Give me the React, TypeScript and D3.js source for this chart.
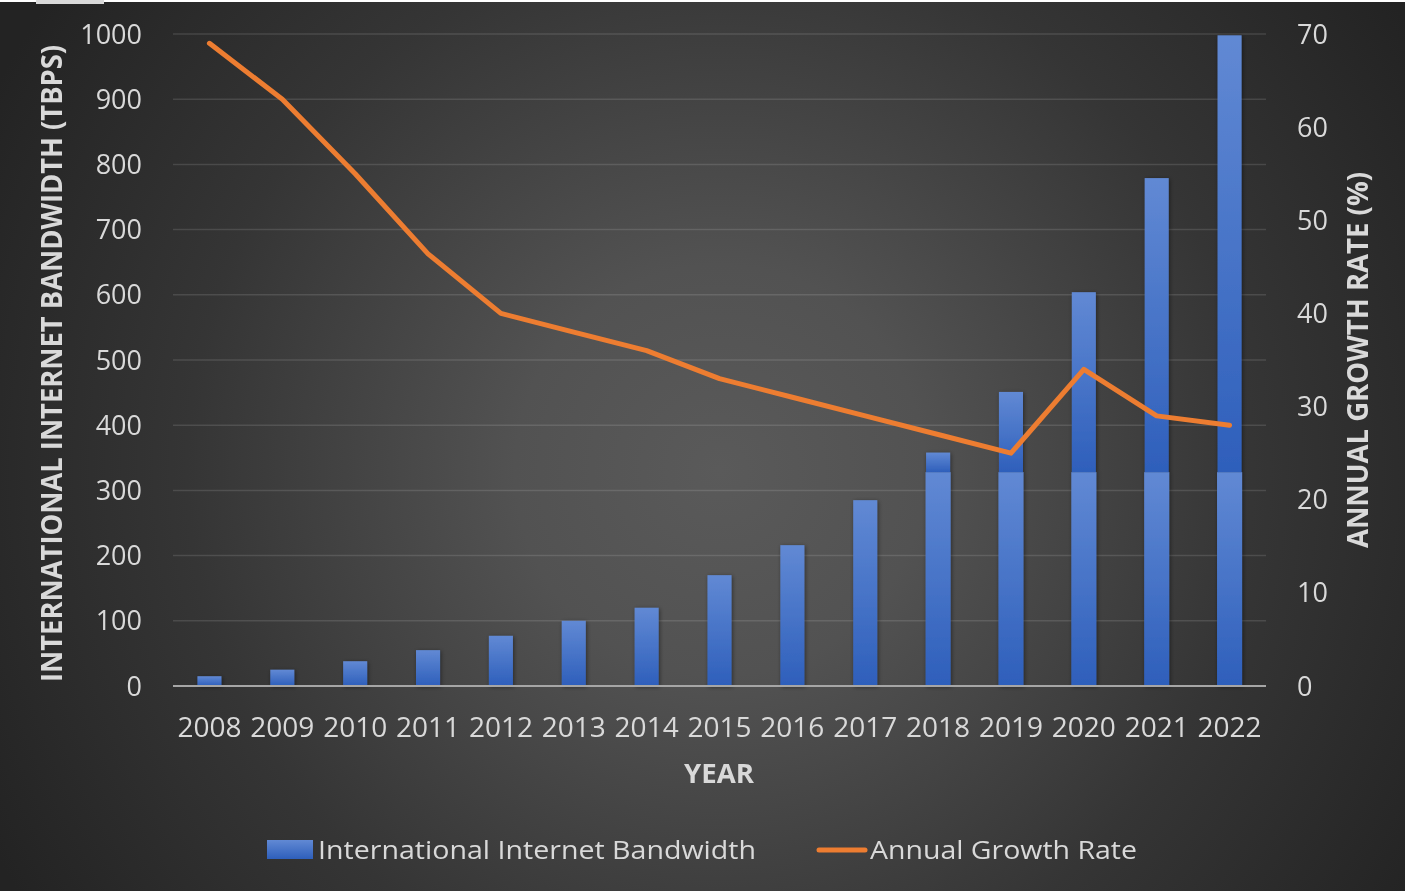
import React from "react";
import * as d3 from "d3";

const years = ["2008","2009","2010","2011","2012","2013","2014","2015","2016","2017","2018","2019","2020","2021","2022"];
const bandwidth = [15, 25, 38, 55, 77, 100, 120, 170, 216, 285, 358, 451, 604, 779, 998];
const growthRate = [69, 63, 55, 46.4, 40, 38, 36, 33, 31, 29, 27, 25, 34, 29, 28];
const leftTicks = [0, 100, 200, 300, 400, 500, 600, 700, 800, 900, 1000];
const rightTicks = [0, 10, 20, 30, 40, 50, 60, 70];
const gradientBreak = 328;

const W = 1405, H = 891;
const FONT = "'Open Sans', 'Liberation Sans', sans-serif";

export default function App() {
  const x = d3.scaleBand<string>().domain(years).range([173, 1266]).padding(0);
  const yL = d3.scaleLinear().domain([0, 1000]).range([686, 34]);
  const yR = d3.scaleLinear().domain([0, 70]).range([686, 34]);
  const bw = x.bandwidth() * 0.33;
  const cx = (d: string) => (x(d) as number) + x.bandwidth() / 2;

  const line = d3.line<number>()
    .x((_, i) => cx(years[i]))
    .y((d) => yR(d));

  const segs: { x: number; y: number; w: number; h: number }[] = [];
  bandwidth.forEach((v, i) => {
    const c = cx(years[i]);
    if (v > gradientBreak) {
      segs.push({ x: c - bw / 2 - 0.5, y: yL(gradientBreak), w: bw + 1, h: yL(0) - yL(gradientBreak) });
      segs.push({ x: c - bw / 2, y: yL(v), w: bw, h: yL(gradientBreak) - yL(v) });
    } else {
      segs.push({ x: c - bw / 2, y: yL(v), w: bw, h: yL(0) - yL(v) });
    }
  });

  return (
    <svg width={W} height={H} style={{ position: "fixed", left: 0, top: 0, display: "block" }}>
      <defs>
        <radialGradient id="bg" gradientUnits="userSpaceOnUse" cx={720} cy={470} r={820}>
          <stop offset="0" stopColor="#5a5a5a" />
          <stop offset="0.25" stopColor="#525252" />
          <stop offset="0.65" stopColor="#353535" />
          <stop offset="1" stopColor="#232323" />
        </radialGradient>
        <linearGradient id="barg" x1="0" y1="0" x2="0" y2="1">
          <stop offset="0" stopColor="#6189d4" />
          <stop offset="1" stopColor="#2e5fbb" />
        </linearGradient>
        <filter id="shadow" x="-50%" y="-10%" width="200%" height="120%">
          <feDropShadow dx="1" dy="1" stdDeviation="2" floodColor="#000" floodOpacity="0.45" />
        </filter>
      </defs>
      <rect x={0} y={0} width={W} height={H} fill="url(#bg)" />
      <rect x={0} y={0} width={W} height={2} fill="#ffffff" />
      <rect x={36} y={0} width={68} height={4} fill="#d9d9d9" />

      {/* gridlines */}
      {leftTicks.filter((t) => t > 0).map((t) => (
        <line key={t} x1={173} x2={1266} y1={yL(t)} y2={yL(t)} stroke="rgba(255,255,255,0.12)" strokeWidth={1.5} />
      ))}

      {/* bars */}
      <g filter="url(#shadow)">
        {segs.map((s, i) => (
          <rect key={i} x={s.x} y={s.y} width={s.w} height={s.h} fill="url(#barg)" />
        ))}
      </g>

      {/* baseline */}
      <line x1={173} x2={1266} y1={yL(0)} y2={yL(0)} stroke="#a6a6a6" strokeWidth={2} />

      {/* growth line */}
      <path d={line(growthRate) || ""} fill="none" stroke="#ed7d31" strokeWidth={5} strokeLinejoin="round" strokeLinecap="round" />

      {/* left ticks */}
      {leftTicks.map((t) => (
        <text key={t} x={142} y={yL(t) + 9.5} textAnchor="end" fontFamily={FONT} fontSize={27} fill="#d9d9d9">{t}</text>
      ))}
      {/* right ticks */}
      {rightTicks.map((t) => (
        <text key={t} x={1297} y={yR(t) + 9.5} textAnchor="start" fontFamily={FONT} fontSize={27} fill="#d9d9d9">{t}</text>
      ))}
      {/* x ticks */}
      {years.map((yv) => (
        <text key={yv} x={cx(yv)} y={737} textAnchor="middle" fontFamily={FONT} fontSize={28} fill="#d9d9d9">{yv}</text>
      ))}

      {/* axis titles */}
      <text transform="translate(62,363.5) rotate(-90)" textAnchor="middle" fontFamily={FONT} fontWeight="bold" fontSize={28} fill="#d9d9d9" textLength={637} lengthAdjust="spacingAndGlyphs">INTERNATIONAL INTERNET BANDWIDTH (TBPS)</text>
      <text transform="translate(1368,360) rotate(-90)" textAnchor="middle" fontFamily={FONT} fontWeight="bold" fontSize={28} fill="#d9d9d9" textLength={376} lengthAdjust="spacingAndGlyphs">ANNUAL GROWTH RATE (%)</text>
      <text x={719} y={783} textAnchor="middle" fontFamily={FONT} fontWeight="bold" fontSize={26} fill="#d9d9d9" textLength={70} lengthAdjust="spacingAndGlyphs">YEAR</text>

      {/* legend */}
      <rect x={267} y={840} width={46} height={19} fill="url(#barg)" />
      <text x={318} y={859} fontFamily={FONT} fontSize={26} fill="#d9d9d9" textLength={438} lengthAdjust="spacingAndGlyphs">International Internet Bandwidth</text>
      <line x1={819} x2={865} y1={850} y2={850} stroke="#ed7d31" strokeWidth={5} strokeLinecap="round" />
      <text x={870} y={859} fontFamily={FONT} fontSize={26} fill="#d9d9d9" textLength={267} lengthAdjust="spacingAndGlyphs">Annual Growth Rate</text>
    </svg>
  );
}
